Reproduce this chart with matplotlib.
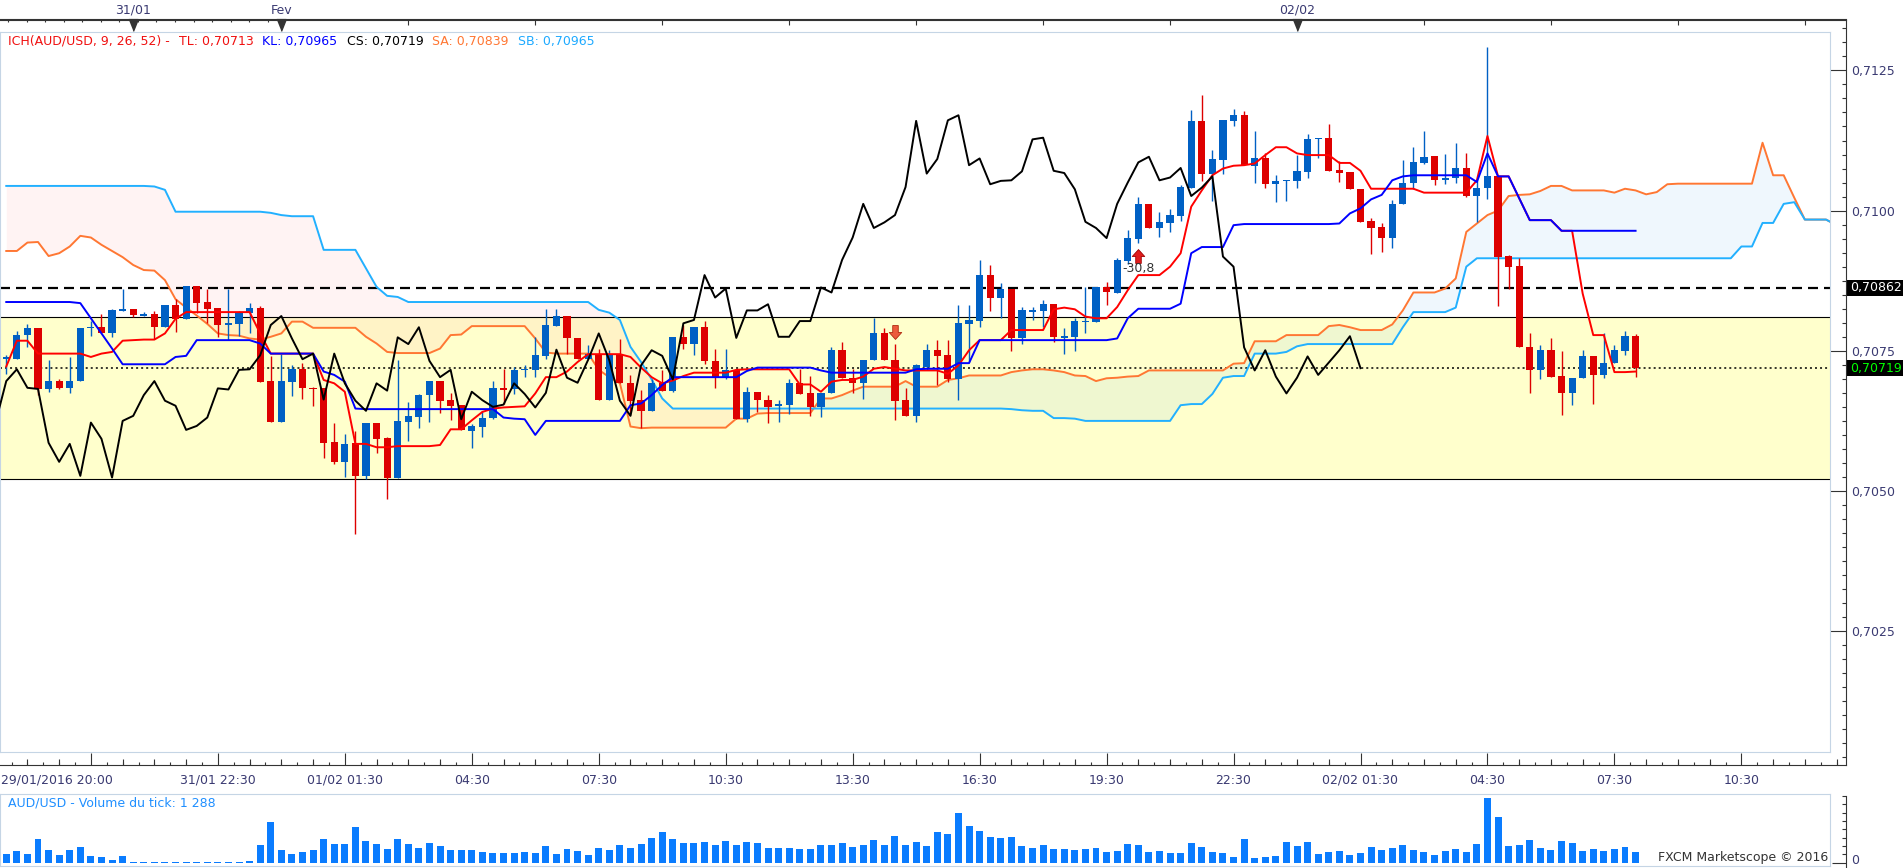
import numpy as np
import matplotlib
matplotlib.use("Agg")
import matplotlib.pyplot as plt
from matplotlib.patches import Rectangle
from matplotlib.transforms import blended_transform_factory

plt.rcParams['font.family'] = ['DejaVu Sans']

W, H = 1903, 868
BASE = 0.7000      # all *_pips values are pips above this price
PIP = 0.0001

# 15 minute candles, AUD/USD
open_pips = [
    73.6, 73.6, 77.8, 79.1, 68.1, 69.7, 68.4, 69.7, 79.1, 79.2,
    78.2, 82.1, 82.4, 81.3, 81.5, 79.2, 83.2, 80.7, 86.5, 83.7,
    82.6, 79.7, 79.8, 81.8, 82.6, 69.6, 62.3, 69.5, 71.7, 68.4,
    68.4, 58.7, 55.2, 58.5, 52.7, 62.2, 59.4, 52.4, 62.3, 63.2,
    67.1, 69.6, 66.2, 65.3, 60.7, 61.5, 63.1, 68.3, 68.1, 71.6,
    71.6, 74.1, 79.5, 81.2, 77.2, 73.5, 74.5, 66.3, 74.5, 69.2,
    66.2, 64.3, 69.3, 67.9, 77.4, 76.2, 79.2, 73.2, 70.3, 71.6,
    62.8, 67.7, 66.2, 65.3, 65.4, 69.2, 67.5, 64.9, 67.5, 75.2,
    70.2, 69.3, 73.4, 78.1, 73.4, 66.2, 63.4, 72.1, 75.1, 74.2,
    69.9, 79.8, 80.3, 88.5, 84.5, 86.1, 77.3, 82.1, 82.1, 83.3,
    77.4, 77.5, 80.2, 80.2, 86.3, 85.3, 91.0, 95.0, 101.2, 96.9,
    97.8, 99.1, 104.1, 116.0, 106.6, 109.1, 116.0, 117.0, 108.0, 109.3,
    104.8, 105.3, 105.3, 106.9, 112.7, 113.0, 107.2, 106.8, 103.8, 98.1,
    97.0, 95.1, 101.1, 105.0, 108.5, 109.7, 105.5, 105.9, 107.6, 102.6,
    104.1, 106.1, 91.9, 90.1, 75.6, 71.5, 75.1, 70.5, 67.4, 70.2,
    74.0, 70.7, 72.9, 75.0, 77.6]
high_pips = [
    74.2, 78.6, 79.8, 79.1, 73.3, 69.9, 73.9, 79.1, 80.3, 81.5,
    82.5, 86.0, 82.4, 81.9, 82.1, 83.2, 84.3, 86.5, 86.5, 86.0,
    82.6, 86.0, 82.1, 83.5, 83.0, 74.1, 74.5, 72.4, 72.9, 68.6,
    68.4, 62.2, 60.1, 60.7, 62.2, 62.2, 59.7, 73.3, 65.8, 67.3,
    69.6, 69.6, 67.5, 65.3, 61.9, 64.3, 69.6, 71.7, 72.1, 72.4,
    77.4, 82.4, 82.4, 81.2, 77.2, 76.0, 75.4, 75.1, 77.1, 70.6,
    68.0, 69.9, 71.6, 77.4, 79.6, 79.2, 80.3, 75.4, 75.4, 71.6,
    68.6, 67.7, 67.1, 66.3, 69.9, 71.7, 70.5, 67.5, 75.6, 76.6,
    71.8, 73.4, 80.9, 79.0, 76.2, 68.3, 72.7, 76.2, 77.0, 77.0,
    83.1, 83.1, 91.2, 90.3, 87.1, 86.1, 82.8, 82.8, 84.0, 83.3,
    79.0, 80.9, 86.3, 86.3, 87.2, 91.5, 96.5, 102.5, 101.2, 99.8,
    100.3, 104.5, 117.9, 120.6, 110.8, 116.1, 118.1, 117.8, 114.2, 110.2,
    106.3, 105.4, 109.9, 113.6, 113.0, 115.4, 108.9, 106.8, 103.8, 98.7,
    97.8, 101.9, 109.0, 111.3, 114.2, 109.7, 110.1, 112.1, 110.2, 105.5,
    129.2, 106.1, 92.1, 91.6, 78.1, 76.0, 77.2, 75.0, 70.2, 75.1,
    74.0, 78.1, 76.0, 78.5, 78.0]
low_pips = [
    70.9, 73.6, 75.6, 67.1, 67.7, 68.2, 67.5, 69.7, 77.7, 78.2,
    77.5, 82.1, 81.0, 81.2, 77.1, 79.2, 78.4, 80.7, 81.7, 80.0,
    77.4, 77.0, 77.6, 78.1, 69.5, 62.3, 62.3, 66.9, 66.4, 65.1,
    55.8, 54.8, 52.5, 42.4, 52.1, 56.7, 48.5, 52.4, 58.9, 61.3,
    62.3, 63.9, 62.6, 60.9, 57.7, 59.7, 62.8, 65.6, 67.3, 70.3,
    70.3, 73.5, 79.5, 74.4, 73.5, 73.5, 66.3, 66.3, 69.2, 63.5,
    61.3, 64.3, 67.9, 67.7, 75.3, 74.2, 72.7, 68.3, 69.9, 62.8,
    62.3, 64.1, 62.2, 62.3, 63.8, 67.3, 63.4, 63.2, 67.5, 70.2,
    67.4, 66.4, 73.4, 73.3, 62.7, 63.4, 62.3, 71.5, 68.9, 69.5,
    66.3, 73.0, 79.3, 82.1, 80.9, 75.0, 76.2, 80.5, 79.2, 76.6,
    74.4, 75.0, 78.2, 80.2, 83.1, 85.3, 90.4, 94.3, 96.9, 95.3,
    96.2, 98.1, 104.1, 105.3, 101.7, 106.5, 115.0, 108.1, 105.0, 104.1,
    101.6, 101.7, 104.1, 105.9, 109.3, 107.1, 105.1, 103.8, 98.0, 92.2,
    92.6, 93.4, 101.1, 103.9, 108.3, 104.5, 104.7, 105.0, 102.5, 98.0,
    102.0, 83.0, 86.1, 75.6, 67.4, 69.9, 70.4, 63.5, 65.3, 70.2,
    65.6, 70.1, 72.9, 74.2, 70.4]
close_pips = [
    73.8, 77.9, 79.1, 68.1, 69.7, 68.4, 69.7, 79.1, 79.2, 78.2,
    82.3, 82.4, 81.3, 81.4, 79.2, 83.2, 80.7, 86.5, 83.6, 82.5,
    79.6, 79.9, 81.9, 82.6, 69.5, 62.3, 69.6, 71.7, 68.4, 68.2,
    58.6, 55.2, 58.4, 52.7, 62.2, 59.3, 52.4, 62.5, 63.4, 67.1,
    69.6, 66.1, 65.2, 60.9, 61.6, 63.1, 68.3, 68.1, 71.6, 71.7,
    74.2, 79.6, 81.2, 77.2, 73.5, 74.5, 66.3, 74.5, 69.2, 66.1,
    64.3, 69.2, 67.9, 77.4, 76.2, 79.2, 73.2, 70.3, 71.6, 62.8,
    67.7, 66.2, 65.0, 65.4, 69.2, 67.3, 64.9, 67.5, 75.2, 70.2,
    69.3, 73.4, 78.1, 73.3, 66.1, 63.4, 72.4, 75.1, 74.1, 69.9,
    79.9, 80.5, 88.5, 84.5, 86.1, 77.3, 82.2, 82.2, 83.3, 77.5,
    77.5, 80.3, 80.3, 86.3, 85.4, 91.2, 95.2, 101.2, 96.9, 97.9,
    99.2, 104.2, 116.0, 106.6, 109.2, 116.1, 117.0, 108.1, 109.3, 104.7,
    105.3, 105.4, 107.0, 112.7, 113.0, 107.1, 106.7, 103.8, 98.0, 96.9,
    95.1, 101.2, 105.0, 108.6, 109.6, 105.4, 105.9, 107.6, 102.6, 104.1,
    106.1, 91.8, 90.0, 75.6, 71.5, 75.1, 70.4, 67.4, 70.2, 74.0,
    70.7, 72.9, 75.1, 77.6, 71.9]

# Ichimoku lines as drawn (tenkan / kijun per candle)
tenkan_pips = [
    72.2, 76.8, 76.8, 74.5, 74.5, 74.5, 74.5, 74.5, 73.9, 74.5,
    74.8, 76.8, 76.9, 77.0, 77.0, 78.1, 80.7, 81.9, 81.9, 81.9,
    81.9, 81.9, 81.9, 81.9, 78.1, 74.5, 74.5, 74.5, 74.5, 74.5,
    69.8, 69.2, 67.7, 58.4, 58.4, 57.8, 57.8, 58.0, 58.0, 58.0,
    58.0, 58.2, 61.0, 61.0, 62.6, 64.1, 64.7, 64.9, 65.0, 65.1,
    67.4, 70.3, 70.3, 71.3, 73.0, 74.4, 74.4, 74.4, 74.4, 73.9,
    72.0, 70.3, 69.2, 69.7, 70.5, 71.1, 71.1, 71.1, 71.1, 71.6,
    71.7, 71.7, 71.7, 71.7, 71.7, 69.0, 69.0, 67.7, 69.5, 69.8,
    69.8, 70.4, 71.8, 72.1, 71.8, 71.5, 71.5, 71.5, 71.5, 70.9,
    72.4, 75.1, 76.9, 76.9, 76.9, 78.7, 78.7, 78.7, 78.7, 82.4,
    82.7, 82.4, 81.1, 80.8, 80.8, 82.8, 85.8, 88.5, 88.5, 88.5,
    90.0, 92.4, 100.7, 103.6, 106.3, 107.5, 108.0, 108.1, 108.4, 109.9,
    111.3, 111.3, 110.2, 109.9, 109.9, 109.9, 108.5, 108.5, 107.1, 103.9,
    103.9, 103.9, 103.9, 103.9, 103.2, 103.2, 103.2, 103.2, 103.2, 105.4,
    113.3, 106.1, 106.1, 102.2, 98.3, 98.3, 98.3, 96.4, 96.4, 85.2,
    77.8, 77.8, 71.2, 71.2, 71.3]
kijun_pips = [
    83.7, 83.7, 83.7, 83.7, 83.7, 83.7, 83.7, 83.5, 80.8, 78.1,
    75.4, 72.6, 72.6, 72.6, 72.6, 72.6, 73.9, 74.1, 76.9, 76.9,
    76.9, 76.9, 76.9, 76.9, 76.3, 74.5, 74.5, 74.5, 74.5, 74.5,
    71.3, 70.7, 69.5, 64.7, 64.6, 64.6, 64.6, 64.6, 64.6, 64.6,
    64.6, 64.6, 64.6, 64.6, 64.6, 64.6, 64.6, 63.1, 62.9, 62.8,
    60.0, 62.5, 62.5, 62.5, 62.5, 62.5, 62.5, 62.5, 62.5, 65.3,
    65.6, 67.1, 68.9, 70.3, 70.3, 70.3, 70.3, 70.3, 70.3, 70.3,
    71.4, 72.0, 72.0, 72.0, 72.0, 72.0, 72.0, 71.5, 71.1, 71.1,
    71.1, 71.1, 71.1, 71.1, 71.1, 71.1, 71.7, 71.8, 71.8, 71.8,
    72.8, 72.8, 76.9, 76.9, 76.9, 76.9, 76.9, 76.9, 76.9, 76.9,
    76.9, 76.9, 76.9, 76.9, 76.9, 77.2, 80.8, 82.5, 82.5, 82.5,
    82.5, 83.4, 92.4, 93.5, 93.5, 93.5, 97.4, 97.6, 97.6, 97.6,
    97.6, 97.6, 97.6, 97.6, 97.6, 97.6, 97.7, 99.5, 100.4, 102.0,
    102.8, 105.4, 106.1, 106.3, 106.3, 106.3, 106.3, 106.3, 106.3, 105.1,
    110.2, 106.1, 106.1, 102.2, 98.3, 98.3, 98.3, 96.4, 96.4, 96.4,
    96.4, 96.4, 96.4, 96.4, 96.4]
# senkou spans, already placed 26 candles ahead (so they run past the last candle)
span_a_pips = [
    92.8, 92.8, 94.3, 94.4, 91.9, 92.4, 93.6, 95.5, 95.2, 93.9,
    92.8, 91.7, 90.3, 89.4, 89.3, 87.6, 84.2, 82.7, 81.3, 79.8,
    78.1, 77.8, 77.7, 77.2, 77.0, 77.5, 78.1, 80.2, 80.2, 79.1,
    79.1, 79.1, 79.1, 79.1, 77.5, 76.3, 74.8, 74.6, 74.6, 74.6,
    74.6, 75.4, 77.8, 77.9, 79.4, 79.4, 79.4, 79.4, 79.4, 79.4,
    77.2, 74.7, 74.5, 74.5, 74.5, 74.5, 71.6, 70.3, 69.2, 61.5,
    61.2, 61.3, 61.3, 61.3, 61.3, 61.3, 61.3, 61.3, 61.3, 62.9,
    62.9, 63.8, 63.9, 63.9, 63.9, 63.9, 63.9, 66.5, 66.5, 67.1,
    67.9, 68.6, 68.6, 68.6, 68.6, 69.6, 68.6, 68.6, 68.6, 69.8,
    70.1, 70.6, 70.6, 70.6, 70.6, 71.2, 71.5, 71.7, 71.7, 71.5,
    71.2, 70.6, 70.5, 69.6, 70.1, 70.2, 70.4, 70.5, 71.5, 71.5,
    71.5, 71.5, 71.5, 71.5, 71.5, 71.5, 72.7, 72.8, 76.7, 76.7,
    76.7, 77.8, 77.8, 77.8, 77.8, 79.4, 79.6, 79.2, 78.7, 78.7,
    78.7, 79.7, 82.2, 85.4, 85.4, 85.4, 86.1, 87.9, 96.2, 97.7,
    99.2, 100.0, 102.6, 102.8, 102.9, 103.5, 104.4, 104.4, 103.6, 103.6,
    103.6, 103.6, 103.2, 103.9, 103.6, 102.9, 103.3, 104.7, 104.8, 104.8,
    104.8, 104.8, 104.8, 104.8, 104.8, 104.8, 112.1, 106.3, 106.3, 102.3,
    98.4, 98.4, 98.4, 97.4]
span_b_pips = [
    104.4, 104.4, 104.4, 104.4, 104.4, 104.4, 104.4, 104.4, 104.4, 104.4,
    104.4, 104.4, 104.4, 104.4, 104.3, 103.7, 99.8, 99.8, 99.8, 99.8,
    99.8, 99.8, 99.8, 99.8, 99.8, 99.6, 99.2, 99.0, 99.0, 99.0,
    93.0, 93.0, 93.0, 93.0, 89.7, 86.4, 84.8, 84.6, 83.7, 83.7,
    83.7, 83.7, 83.7, 83.7, 83.7, 83.7, 83.7, 83.7, 83.7, 83.7,
    83.7, 83.7, 83.7, 83.7, 83.7, 83.7, 82.3, 81.8, 80.5, 75.7,
    73.0, 69.9, 66.5, 64.7, 64.7, 64.7, 64.7, 64.7, 64.7, 64.7,
    64.7, 64.7, 64.7, 64.7, 64.7, 64.7, 64.7, 64.7, 64.7, 64.7,
    64.7, 64.7, 64.7, 64.7, 64.7, 64.7, 64.7, 64.7, 64.7, 64.7,
    64.7, 64.7, 64.7, 64.7, 64.7, 64.6, 64.4, 64.3, 64.3, 63.0,
    63.0, 62.9, 62.5, 62.5, 62.5, 62.5, 62.5, 62.5, 62.5, 62.5,
    62.5, 65.3, 65.5, 65.5, 67.3, 70.2, 70.5, 70.5, 74.5, 74.5,
    74.5, 74.8, 75.8, 76.2, 76.2, 76.2, 76.2, 76.2, 76.2, 76.2,
    76.2, 76.2, 79.2, 81.9, 81.9, 81.9, 81.9, 82.7, 90.0, 91.5,
    91.5, 91.5, 91.5, 91.5, 91.5, 91.5, 91.5, 91.5, 91.5, 91.5,
    91.5, 91.5, 91.5, 91.5, 91.5, 91.5, 91.5, 91.5, 91.5, 91.5,
    91.5, 91.5, 91.5, 91.5, 93.6, 93.6, 97.8, 97.8, 101.2, 101.5,
    98.4, 98.4, 98.4, 97.4]
tick_volume = [
    1040, 1400, 1040, 2840, 1520, 920, 1520, 1840, 800, 640,
    320, 800, 80, 80, 80, 80, 80, 120, 80, 120,
    120, 120, 120, 160, 2120, 4920, 1520, 1040, 1280, 1520,
    2840, 2240, 2240, 4280, 2600, 2240, 1640, 2840, 2240, 1760,
    2360, 2000, 1520, 1520, 1520, 1280, 1160, 1160, 1160, 1280,
    1160, 2000, 1040, 1640, 1400, 920, 1760, 1520, 2120, 1760,
    2240, 2960, 3680, 2840, 2360, 2360, 2480, 2120, 2600, 2120,
    2480, 2360, 1760, 1760, 1760, 1640, 1640, 2120, 2120, 2360,
    1880, 2120, 2720, 2120, 3200, 2120, 2480, 2000, 3680, 3440,
    6000, 4400, 3840, 3080, 2960, 3080, 2000, 1760, 2120, 1640,
    1640, 1520, 1640, 1760, 1280, 1400, 2240, 2120, 1280, 1400,
    1160, 1160, 2360, 1880, 1280, 1160, 680, 2840, 560, 680,
    800, 2480, 2000, 2480, 1040, 1280, 1400, 920, 1160, 1880,
    1520, 1760, 2120, 1520, 1280, 920, 1400, 1640, 1280, 2240,
    7720, 5480, 2000, 2120, 2720, 1760, 1520, 2600, 2360, 1400,
    1640, 1400, 1640, 1880, 1288]

time_labels = {8: "29/01/2016 20:00", 20: "31/01 22:30", 32: "01/02 01:30",
               44: "04:30", 56: "07:30", 68: "10:30", 80: "13:30", 92: "16:30",
               104: "19:30", 116: "22:30", 128: "02/02 01:30", 140: "04:30",
               152: "07:30", 164: "10:30"}
day_marks = {12: "31/01", 26: "Fev", 122: "02/02"}

level_dash = 0.70862
level_dot = 0.70719
zone_top, zone_bottom = 0.70811, 0.70521
signal_up = (107, 0.70919, "-30,8", 0.70897)
signal_down = (84, 0.70784)

legend_parts = [("ICH(AUD/USD, 9, 26, 52) -", '#f01010', 8),
                ("TL: 0,70713", '#f01010', 179),
                ("KL: 0,70965", '#0000ff', 262),
                ("CS: 0,70719", '#000000', 347),
                ("SA: 0,70839", '#ff7733', 432),
                ("SB: 0,70965", '#1eaaff', 518)]

BULL, BEAR = '#0060c4', '#dd0000'
DARK = '#333333'
EDGE = '#c5d5e5'
LABEL = '#3a3a72'


def box(x0, y0, x1, y1):
    return [x0 / W, 1 - y1 / H, (x1 - x0) / W, (y1 - y0) / H]


def k_at(px):
    return (px - 6.26) / 10.58


def price_at(py):
    return 0.7125 - (py - 70.4) / 5.608 * PIP


o = BASE + np.array(open_pips) * PIP
hi = BASE + np.array(high_pips) * PIP
lo = BASE + np.array(low_pips) * PIP
c = BASE + np.array(close_pips) * PIP
tenkan = BASE + np.array(tenkan_pips) * PIP
kijun = BASE + np.array(kijun_pips) * PIP
sa = BASE + np.array(span_a_pips) * PIP
sb = BASE + np.array(span_b_pips) * PIP
k = np.arange(len(c))
ks = np.arange(len(sa))

fig = plt.figure(figsize=(W / 100, H / 100), dpi=100)

# dark outer frame with the ticks
FT, FB = 19.5, 765
frame = fig.add_axes(box(0, FT, 1846, FB))
frame.set_facecolor('none')
frame.set_xlim(k_at(0), k_at(1846))
frame.set_ylim(price_at(FB), price_at(FT))
frame.spines['left'].set_visible(False)
for s in ['top', 'right', 'bottom']:
    frame.spines[s].set_color(DARK)
frame.yaxis.tick_right()
yt = [0.7025, 0.7050, 0.7075, 0.7100, 0.7125]
frame.set_yticks(yt)
frame.set_yticklabels([f"{v:.4f}".replace('.', ',') for v in yt])
frame.set_yticks(np.arange(0.70025, 0.7134, 0.00025), minor=True)
frame.tick_params(axis='y', which='major', direction='in', length=11.2, width=0.8,
                  color=DARK, pad=4, labelsize=9, labelcolor=LABEL)
frame.tick_params(axis='y', which='minor', direction='in', length=3, width=0.8, color=DARK)
frame.set_xticks(list(time_labels.keys()))
frame.set_xticklabels([])
frame.set_xticks(np.arange(0.5, 174, 1.5), minor=True)
frame.tick_params(axis='x', which='major', direction='in', length=9, width=0.8, color=DARK)
frame.tick_params(axis='x', which='minor', direction='in', length=2, width=0.8, color=DARK)
# medium ticks every 3 candles
xax = blended_transform_factory(frame.transData, frame.transAxes)
mid = [m for m in np.arange(2, 174, 3) if (m - 8) % 12 != 0]
frame.vlines(mid, 0, 6 / (FB - FT), transform=xax, color=DARK, lw=0.8)

top = frame.secondary_xaxis('top')
top.set_xticks(list(range(26, 174, 12)) + [12])
top.set_xticklabels([])
top.set_xticks(np.arange(0.2, 26, 1.75), minor=True)
top.tick_params(which='major', direction='in', length=4.5, width=0.8, color=DARK)
top.tick_params(which='minor', direction='in', length=2.5, width=0.8, color=DARK)
top.spines['top'].set_color(DARK)

xfig = blended_transform_factory(frame.transData, fig.transFigure)
for kk, lab in time_labels.items():
    if kk == 8:
        frame.text(k_at(1), 1 - 780 / H, lab, transform=xfig, ha='left', va='center',
                   fontsize=9, color=LABEL)
    else:
        frame.text(kk, 1 - 780 / H, lab, transform=xfig, ha='center', va='center',
                   fontsize=9, color=LABEL)
tri = [(-0.4, 0.5), (0.4, 0.5), (0, -0.5)]
for kk, lab in day_marks.items():
    frame.text(kk, 1 - 10 / H, lab, transform=xfig, ha='center', va='center',
               fontsize=9, color=LABEL)
    frame.plot(kk, price_at(25), marker=tri, ms=8.5, color=DARK, ls='none', clip_on=False)

# price tags at the right
ytag = blended_transform_factory(frame.transAxes, frame.transData)
for level, tcol in [(level_dash, 'white'), (level_dot, '#00ff00')]:
    hgt = 16 / 5.608 * PIP
    frame.add_patch(Rectangle((1.0, level - hgt / 2), 57 / 1846, hgt, transform=ytag,
                              facecolor='black', edgecolor='none', clip_on=False))
    frame.text(1850 / 1846, level, f"{level:.5f}".replace('.', ','), transform=ytag,
               ha='left', va='center', fontsize=9, color=tcol)

# main price panel
ax = fig.add_axes(box(0, 32.3, 1830, 752.3))
ax.set_xlim(k_at(0), k_at(1830))
ax.set_ylim(price_at(752.3), price_at(32.3))
ax.set_xticks([])
ax.set_yticks([])
for s in ax.spines.values():
    s.set_color(EDGE)

ax.axhspan(zone_bottom, zone_top, facecolor='#ffffcc', edgecolor='none', zorder=0.5)
ax.fill_between(ks, sa, sb, where=sa >= sb, interpolate=True, color=(0.45, 0.75, 0.95),
                alpha=0.11, lw=0, zorder=1)
ax.fill_between(ks, sa, sb, where=sa < sb, interpolate=True, color=(1.0, 0.6, 0.6),
                alpha=0.11, lw=0, zorder=1)
ax.axhline(zone_top, color='black', lw=0.8, zorder=1.5)
ax.axhline(zone_bottom, color='black', lw=0.8, zorder=1.5)
ax.axhline(level_dash, color='black', lw=1.6, dashes=(4.5, 2.7), zorder=2)
ax.axhline(level_dot, color='black', lw=1.1, dashes=(1.3, 2.0), zorder=2)

ax.plot(ks, sa, color='#ff7733', lw=1.4, zorder=2.5)
ax.plot(ks, sb, color='#22b0ff', lw=1.4, zorder=2.5)

cols = np.where(c >= o, BULL, BEAR)
ax.vlines(k, lo, hi, colors=cols, lw=1.0, zorder=3)
body = np.maximum(np.abs(c - o), 0.3 * PIP)
ax.bar(k, body, bottom=(o + c) / 2 - body / 2, width=0.68, color=cols, lw=0, zorder=3.1)

ax.plot(k, tenkan, color='#ff0000', lw=1.4, zorder=4)
ax.plot(k, kijun, color='#0000ff', lw=1.4, zorder=4.1)
ax.plot(k[25:] - 26, c[25:], color='black', lw=1.4, zorder=4.2)

up_arrow = [(-0.2, -0.5), (0.2, -0.5), (0.2, 0.0), (0.45, 0.0), (0, 0.5), (-0.45, 0.0),
            (-0.2, 0.0), (-0.2, -0.5)]
down_arrow = [(x, -y) for x, y in up_arrow]
ax.plot(signal_up[0], signal_up[1], marker=up_arrow, ms=10, mfc='#e01c1c', mec='#a00000',
        mew=0.6, ls='none', zorder=5)
ax.text(signal_up[0], signal_up[3], signal_up[2], ha='center', va='center', fontsize=9,
        color=DARK, zorder=5)
ax.plot(signal_down[0], signal_down[1], marker=down_arrow, ms=10, mfc='#ec5a3c',
        mec='#b02a10', mew=0.6, ls='none', zorder=5)

for txt, col, xpx in legend_parts:
    fig.text(xpx / W, 1 - 41 / H, txt, ha='left', va='center', fontsize=9, color=col)

# tick volume panel
vax = fig.add_axes(box(0, 794, 1830, 865.7))
vax.set_xlim(k_at(0), k_at(1830))
vax.set_ylim(-360, (862.7 - 794) * 120)
vax.set_xticks([])
vax.set_yticks([])
for s in vax.spines.values():
    s.set_color(EDGE)
vax.bar(k, tick_volume, width=0.66, color='#0a7cff', lw=0)

vframe = fig.add_axes(box(0, 796, 1846, 868))
vframe.set_facecolor('none')
vframe.set_zorder(-1)
vframe.set_xlim(k_at(0), k_at(1846))
vframe.set_ylim(-(868 - 862.7) * 120, (862.7 - 796) * 120)
for s in ['left', 'top', 'bottom']:
    vframe.spines[s].set_visible(False)
vframe.spines['right'].set_color(DARK)
vframe.set_xticks([])
vframe.yaxis.tick_right()
vframe.set_yticks([0])
vframe.set_yticklabels([])
vframe.set_yticks(np.arange(1000, 8001, 1000), minor=True)
vframe.tick_params(axis='y', which='major', direction='in', length=10, width=0.8, color=DARK)
vframe.tick_params(axis='y', which='minor', direction='in', length=3, width=0.8, color=DARK)

fig.text(1851 / W, 1 - 860 / H, "0", ha='left', va='center', fontsize=9, color=LABEL)
fig.text(8 / W, 1 - 803 / H, "AUD/USD - Volume du tick: 1 288", ha='left', va='center',
         fontsize=9, color='#1f8fff')
fig.text(1828 / W, 1 - 858 / H, "FXCM Marketscope \u00a9 2016", ha='right', va='center',
         fontsize=9, color=DARK)

fig.savefig("out.png", dpi=100)
